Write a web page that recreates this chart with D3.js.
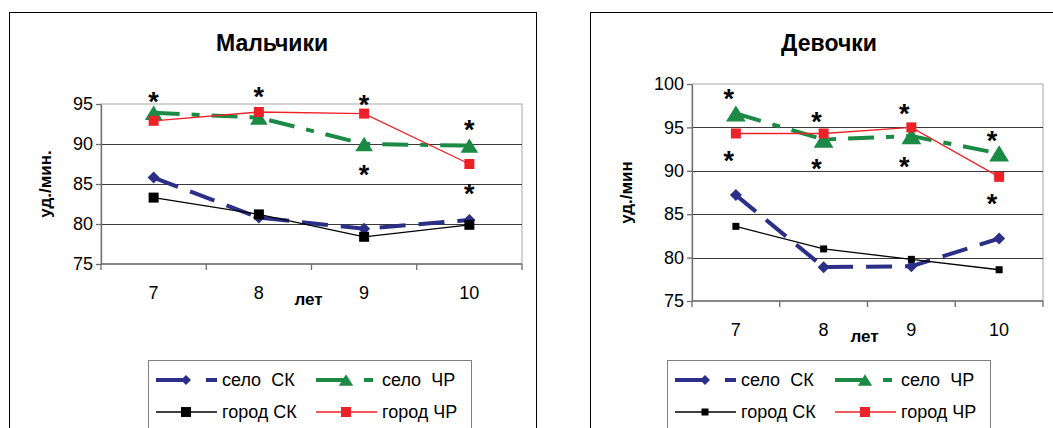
<!DOCTYPE html>
<meta charset="utf-8">
<style>
    body { margin: 0; background: #fff; }
    text { font-family: "Liberation Sans", Arial, sans-serif; fill: #000; }
    .frame { fill: none; stroke: #000; stroke-width: 1; }
    .plot-bg { fill: #fff; stroke: #a8a8a8; stroke-width: 1; }
    .grid line { stroke: #3a3a3a; stroke-width: 1; }
    .axis path, .axis line { stroke: #6e6e6e; stroke-width: 1.3; }
    .legend-box { fill: #fff; stroke: #808080; stroke-width: 1; }
</style>
<svg width="1053" height="428"></svg>
<script src="https://d3js.org/d3.v7.min.js"></script>
<script>
    // categories (age, years) and series names
    var ages = ['7', '8', '9', '10'];
    var seriesNames = ['село  СК', 'село  ЧР', 'город СК', 'город ЧР'];

    // boys, beats per minute
    var boysSeloSK = [85.8, 80.8, 79.4, 80.5];
    var boysSeloCR = [93.9, 93.3, 90.0, 89.8];
    var boysGorodSK = [83.3, 81.2, 78.4, 79.9];
    var boysGorodCR = [92.9, 94.0, 93.8, 87.5];

    // girls, beats per minute
    var girlsSeloSK = [87.2, 78.9, 79.0, 82.2];
    var girlsSeloCR = [96.6, 93.6, 94.0, 92.0];
    var girlsGorodSK = [83.6, 81.0, 79.8, 78.6];
    var girlsGorodCR = [94.3, 94.3, 95.0, 89.3];

    // y tick labels
    var boysTicks = [75, 80, 85, 90, 95];
    var girlsTicks = [75, 80, 85, 90, 95, 100];

    // significance marks (*): age and level
    var boysStarAges = ['7', '8', '9', '9', '10', '10'];
    var boysStarLevels = [96.2, 96.8, 95.8, 87.0, 92.7, 84.7];
    var girlsStarAges = ['7', '7', '8', '8', '9', '9', '10', '10'];
    var girlsStarLevels = [99.1, 92.0, 96.4, 91.0, 97.4, 91.3, 94.3, 87.0];

    var svg = d3.select('svg');

    // marker shapes, centred on 0,0
    function markerPath(shape, s) {
        var h = s / 2;
        if (shape === 'diamond') return 'M0,' + (-h) + 'L' + h + ',0L0,' + h + 'L' + (-h) + ',0Z';
        if (shape === 'triangle') return 'M0,' + (-h * 0.9) + 'L' + (h * 1.1) + ',' + (h * 0.9) + 'L' + (-h * 1.1) + ',' + (h * 0.9) + 'Z';
        return 'M' + (-h) + ',' + (-h) + 'H' + h + 'V' + h + 'H' + (-h) + 'Z';
    }

    var styles = [
        { color: '#2b2f87', width: 4, dash: '26,13', legendDash: '33,17,11,100', marker: 'diamond' },
        { color: '#1b8a45', width: 4, dash: '26,12,8,12', legendDash: '28,20,9,100', marker: 'triangle' },
        { color: '#000000', width: 1.3, dash: null, legendDash: null, marker: 'square' },
        { color: '#ee2128', width: 1.3, dash: null, legendDash: null, marker: 'square' }
    ];

    var panels = [{
        title: 'Мальчики', titleX: 272,
        frame: { x: 9, y: 12, w: 527, h: 430 },
        plot: { left: 101, right: 522, top: 104, bottom: 264 },
        domain: [75, 95], ticks: boysTicks,
        yTitle: 'уд./мин.', yTitleX: 45,
        values: [boysSeloSK, boysSeloCR, boysGorodSK, boysGorodCR],
        sizes: [12, 16, 10, 10], legendSizes: [10, 13, 10, 10],
        starAges: boysStarAges, starLevels: boysStarLevels, starDx: 0,
        legend: { x: 148, y: 360, w: 323 }
    }, {
        title: 'Девочки', titleX: 829,
        frame: { x: 590, y: 12, w: 480, h: 430 },
        plot: { left: 692, right: 1043, top: 84, bottom: 301 },
        domain: [75, 100], ticks: girlsTicks,
        yTitle: 'уд./мин', yTitleX: 626,
        values: [girlsSeloSK, girlsSeloCR, girlsGorodSK, girlsGorodCR],
        sizes: [12, 18, 7, 10], legendSizes: [10, 13, 7, 10],
        starAges: girlsStarAges, starLevels: girlsStarLevels, starDx: -7,
        legend: { x: 667, y: 360, w: 323 }
    }];

    panels.forEach(function(p) {
        var g = svg.append('g');

        g.append('rect').attr('class', 'frame')
            .attr('x', p.frame.x + 0.5).attr('y', p.frame.y + 0.5)
            .attr('width', p.frame.w).attr('height', p.frame.h);

        g.append('text')
            .attr('x', p.titleX).attr('y', 51)
            .attr('text-anchor', 'middle')
            .style('font-size', '23px').style('font-weight', 'bold')
            .text(p.title);

        var x = d3.scaleBand().domain(ages).range([p.plot.left, p.plot.right]);
        var y = d3.scaleLinear().domain(p.domain).range([p.plot.bottom, p.plot.top]);

        g.append('rect').attr('class', 'plot-bg')
            .attr('x', p.plot.left).attr('y', p.plot.top)
            .attr('width', p.plot.right - p.plot.left)
            .attr('height', p.plot.bottom - p.plot.top);

        // horizontal grid
        g.append('g').attr('class', 'grid')
            .selectAll('line')
            .data(p.ticks.filter(function(t) { return t !== p.domain[0] && t !== p.domain[1]; }))
            .enter().append('line')
            .attr('x1', p.plot.left).attr('x2', p.plot.right)
            .attr('y1', function(d) { return Math.round(y(d)) + 0.5; })
            .attr('y2', function(d) { return Math.round(y(d)) + 0.5; });

        // y axis
        var ya = g.append('g').attr('class', 'axis')
            .attr('transform', 'translate(' + p.plot.left + ',0)')
            .call(d3.axisLeft(y).tickValues(p.ticks).tickSize(5).tickSizeOuter(0).tickPadding(3));
        ya.selectAll('text').style('font-size', '18px')
            .attr('font-family', null).attr('fill', null);

        // x axis: ticks on category boundaries, labels in the middle
        var bounds = ages.map(function(a) { return x(a); }).concat([p.plot.right]);
        g.append('line')
            .attr('x1', p.plot.left).attr('x2', p.plot.right)
            .attr('y1', p.plot.bottom).attr('y2', p.plot.bottom)
            .style('stroke', '#6e6e6e').style('stroke-width', 1.3);
        g.selectAll('.xtick').data(bounds).enter().append('line')
            .attr('class', 'xtick')
            .attr('x1', function(d) { return d; }).attr('x2', function(d) { return d; })
            .attr('y1', p.plot.bottom).attr('y2', p.plot.bottom + 6)
            .style('stroke', '#6e6e6e').style('stroke-width', 1.3);
        g.selectAll('.xlabel').data(ages).enter().append('text')
            .attr('class', 'xlabel')
            .attr('x', function(d) { return x(d) + x.bandwidth() / 2; })
            .attr('y', p.plot.bottom + 35)
            .attr('text-anchor', 'middle')
            .style('font-size', '18px')
            .text(function(d) { return d; });

        g.append('text')
            .attr('x', x(ages[2]) - 3).attr('y', p.plot.bottom + 41)
            .attr('text-anchor', 'middle')
            .style('font-size', '17px').style('font-weight', 'bold')
            .text('лет');

        g.append('text')
            .attr('transform', 'translate(' + p.yTitleX + ',' + (p.plot.top + p.plot.bottom) / 2 + ') rotate(-90)')
            .attr('text-anchor', 'middle').attr('dy', '0.35em')
            .style('font-size', '17px').style('font-weight', 'bold')
            .text(p.yTitle);

        // series
        var cx = function(d, i) { return x(ages[i]) + x.bandwidth() / 2; };
        var line = d3.line().x(cx).y(function(d) { return y(d); });

        p.values.forEach(function(vals, k) {
            var st = styles[k];
            g.append('path')
                .attr('d', line(vals))
                .attr('fill', 'none')
                .attr('stroke', st.color)
                .attr('stroke-width', st.width)
                .attr('stroke-dasharray', st.dash);
        });
        p.values.forEach(function(vals, k) {
            var st = styles[k];
            g.selectAll('.m' + k).data(vals).enter().append('path')
                .attr('class', 'm' + k)
                .attr('transform', function(d, i) { return 'translate(' + cx(d, i) + ',' + y(d) + ')'; })
                .attr('d', markerPath(st.marker, p.sizes[k]))
                .attr('fill', st.color);
        });

        // significance marks
        g.selectAll('.star').data(p.starLevels).enter().append('text')
            .attr('class', 'star')
            .attr('x', function(d, i) { return x(p.starAges[i]) + x.bandwidth() / 2 + p.starDx; })
            .attr('y', function(d) { return y(d); })
            .attr('dy', '0.6em')
            .attr('text-anchor', 'middle')
            .style('font-size', '27px').style('font-weight', 'bold')
            .text('*');

        // legend
        var L = p.legend;
        g.append('rect').attr('class', 'legend-box')
            .attr('x', L.x + 0.5).attr('y', L.y + 0.5)
            .attr('width', L.w).attr('height', 90);
        var colX = [L.x + 8, L.x + 168];
        var rowY = [L.y + 20, L.y + 52];
        seriesNames.forEach(function(name, k) {
            var st = styles[k];
            var lx = colX[k % 2], ly = rowY[Math.floor(k / 2)];
            g.append('line')
                .attr('x1', lx).attr('x2', lx + 61)
                .attr('y1', ly).attr('y2', ly)
                .attr('stroke', st.color)
                .attr('stroke-width', st.width)
                .attr('stroke-dasharray', st.legendDash);
            g.append('path')
                .attr('transform', 'translate(' + (lx + 30) + ',' + ly + ')')
                .attr('d', markerPath(st.marker, p.legendSizes[k]))
                .attr('fill', st.color);
            g.append('text')
                .attr('x', lx + 66).attr('y', ly).attr('dy', '0.35em')
                .style('font-size', '18px')
                .style('white-space', 'pre')
                .text(name);
        });
    });
</script>
